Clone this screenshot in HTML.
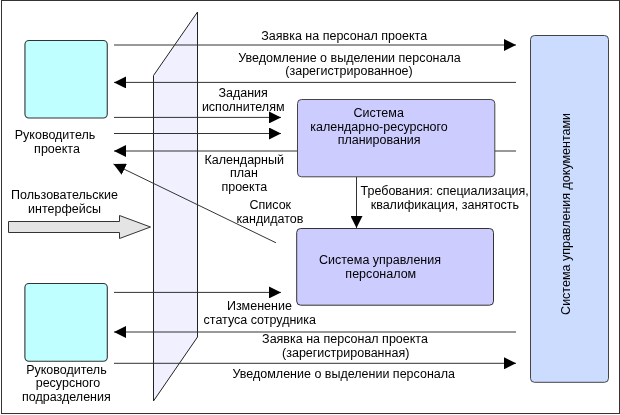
<!DOCTYPE html>
<html><head><meta charset="utf-8">
<style>
html,body{margin:0;padding:0;background:#fff;}
body{width:620px;height:415px;overflow:hidden;}
svg{display:block;will-change:transform;}
text{font-family:"Liberation Sans",sans-serif;font-size:12.5px;fill:#000;}
</style></head>
<body>
<svg width="620" height="415" viewBox="0 0 620 415">
<defs>
<marker id="ah" viewBox="0 0 12 12" refX="12" refY="6" markerWidth="12" markerHeight="12" markerUnits="userSpaceOnUse" orient="auto">
<path d="M0,0 L12,6 L0,12 Z" fill="#000"/>
</marker>
</defs>
<!-- outer frame -->
<rect x="1.5" y="0.5" width="618" height="413" fill="#fff" stroke="#333" stroke-width="1"/>

<!-- cyan boxes -->
<rect x="24.95" y="40.5" width="82.3" height="77.5" rx="4" fill="#c0ffff" stroke="#333" stroke-width="1.1"/>
<rect x="24.9" y="283.5" width="82.4" height="77.7" rx="4" fill="#c0ffff" stroke="#333" stroke-width="1.1"/>

<!-- right box -->
<rect x="530.5" y="35.5" width="78" height="346.8" rx="4" fill="#ccdcff" stroke="#444" stroke-width="1"/>

<!-- plane -->
<polygon points="197.5,12 153.5,75.5 153.5,401 197.5,337" fill="#f0f0ff" stroke="#222" stroke-width="1"/>
<!-- lines -->
<g stroke="#333" stroke-width="1" fill="none">
<line x1="114" y1="45" x2="516" y2="45" marker-end="url(#ah)"/>
<line x1="516" y1="82.4" x2="114" y2="82.4" marker-end="url(#ah)"/>
<line x1="114" y1="117.4" x2="281" y2="117.4" marker-end="url(#ah)"/>
<line x1="114" y1="133.5" x2="281" y2="133.5" marker-end="url(#ah)"/>
<line x1="297" y1="151" x2="114" y2="151" marker-end="url(#ah)"/>
<line x1="494" y1="151" x2="516" y2="151"/>
<line x1="276" y1="242.8" x2="113.5" y2="164" marker-end="url(#ah)"/>
<line x1="356.5" y1="177" x2="356.5" y2="228" marker-end="url(#ah)"/>
<line x1="114" y1="292.4" x2="281" y2="292.4" marker-end="url(#ah)"/>
<line x1="516" y1="332" x2="114" y2="332" marker-end="url(#ah)"/>
<line x1="114" y1="363.3" x2="516" y2="363.3" marker-end="url(#ah)"/>
</g>


<!-- middle boxes -->
<rect x="297.5" y="99.5" width="197.3" height="77.3" rx="4" fill="#ccccff" stroke="#444" stroke-width="1"/>
<rect x="296.7" y="228.5" width="196.8" height="76.7" rx="4" fill="#ccccff" stroke="#333" stroke-width="1"/>

<!-- big gray arrow -->
<polygon points="8.5,221.5 119.5,221.5 119.5,215.5 150.5,227 119.5,238.5 119.5,232.5 8.5,232.5" fill="#e4e4e4" stroke="#333" stroke-width="1"/>

<!-- texts -->
<g text-anchor="middle">
<text x="344.2" y="39.5">Заявка на персонал проекта</text>
<text x="349.5" y="61.9">Уведомление о выделении персонала</text>
<text x="349" y="74.6">(зарегистрированное)</text>
<text x="243.1" y="97.1">Задания</text>
<text x="243.2" y="110.8">исполнителям</text>
<text x="244.2" y="164.2">Календарный</text>
<text x="244" y="177.1">план</text>
<text x="244.3" y="190.8">проекта</text>
<text x="270.3" y="208.9">Список</text>
<text x="269.9" y="223.1">кандидатов</text>
<text x="444.7" y="194.8">Требования: специализация,</text>
<text x="444.9" y="208.8">квалификация, занятость</text>
<text x="378.7" y="116.8">Система</text>
<text x="379" y="130.5">календарно-ресурсного</text>
<text x="379.1" y="143.9">планирования</text>
<text x="380" y="264.2">Система управления</text>
<text x="380.8" y="278">персоналом</text>
<text x="259.4" y="309.8">Изменение</text>
<text x="259.8" y="324.3">статуса сотрудника</text>
<text x="345" y="343.2">Заявка на персонал проекта</text>
<text x="345.7" y="356.6">(зарегистрированная)</text>
<text x="343.8" y="377.6">Уведомление о выделении персонала</text>
<text x="55" y="138.6">Руководитель</text>
<text x="57" y="153.3">проекта</text>
<text x="64.5" y="198.9">Пользовательские</text>
<text x="64.5" y="213.1">интерфейсы</text>
<text x="66.4" y="373.8">Руководитель</text>
<text x="68" y="386.9">ресурсного</text>
<text x="66.4" y="401.2">подразделения</text>
<text transform="translate(570.4,213.9) rotate(-90)" x="0" y="0">Система управления документами</text>
</g>
</svg>
</body></html>
